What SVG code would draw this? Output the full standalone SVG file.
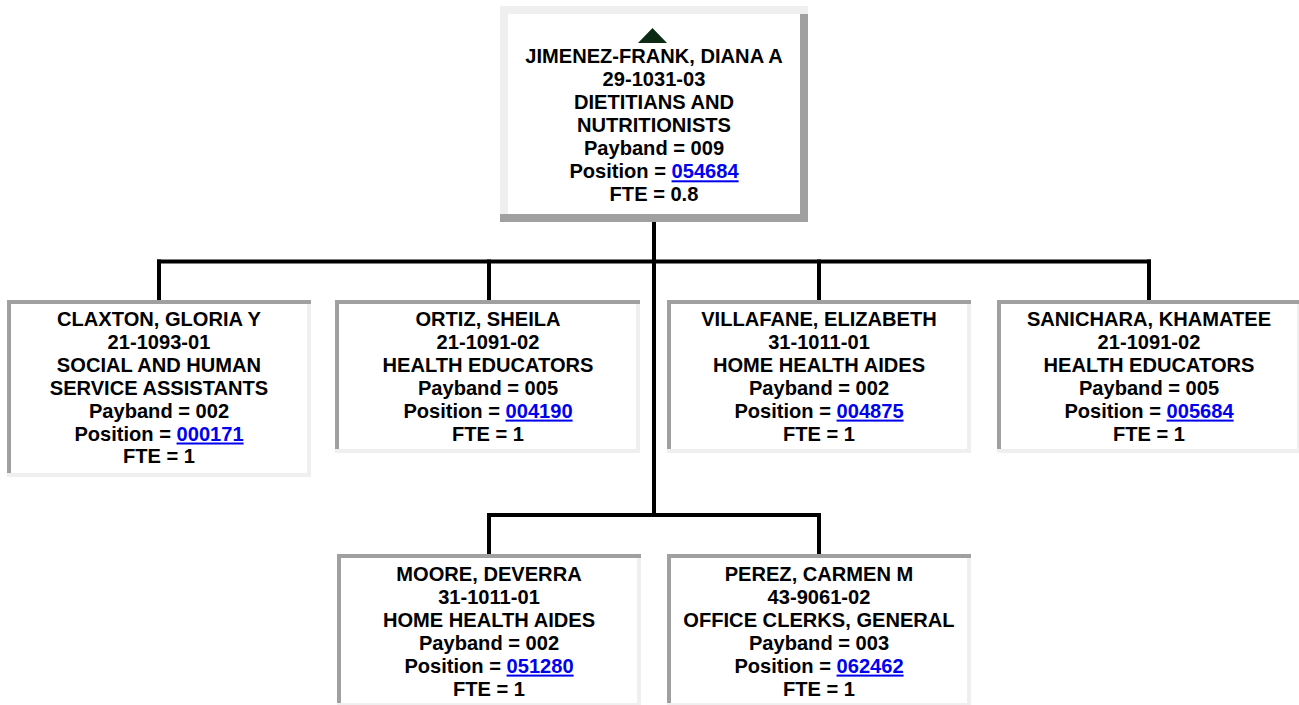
<svg xmlns="http://www.w3.org/2000/svg" width="1299" height="705" viewBox="0 0 1299 705">
<style>
.bg{fill:#ffffff}
.lt{fill:#efefef}
.dk{fill:#a0a0a0}
.t{font-family:"Liberation Sans",Arial,sans-serif;font-weight:bold;font-size:20.1px;text-anchor:middle;fill:#000}
.lk{fill:#0000ee;text-decoration:underline}
.c{stroke:#000;stroke-width:4;fill:none;stroke-linecap:square}
</style>
<rect x="0" y="0" width="1299" height="705" fill="#ffffff"/>
<g id="connectors">
<path class="c" d="M654 222 V515"/>
<path class="c" d="M159 261.5 H1149"/>
<path class="c" d="M159 261.5 V300 M489 261.5 V300 M819 261.5 V300 M1149 261.5 V300"/>
<path class="c" d="M489 515 H819 M489 515 V554 M819 515 V554"/>
</g>
<g id="node-jimenez">
<rect class="bg" x="500" y="6" width="308" height="216"/>
<rect class="lt" x="500" y="6" width="308" height="8"/>
<rect class="dk" x="500" y="214" width="308" height="8"/>
<rect class="lt" x="500" y="14" width="8" height="200"/>
<rect class="dk" x="800" y="14" width="8" height="200"/>
<polygon points="638,43 667,43 652.5,28" fill="#0d2b14"/>
<text class="t" x="654" y="63.3">JIMENEZ-FRANK, DIANA A</text>
<text class="t" x="654" y="86.3">29-1031-03</text>
<text class="t" x="654" y="109.3">DIETITIANS AND</text>
<text class="t" x="654" y="132.3">NUTRITIONISTS</text>
<text class="t" x="654" y="155.3">Payband = 009</text>
<text class="t" x="654" y="178.3">Position = <tspan class="lk">054684</tspan></text>
<text class="t" x="654" y="201.3">FTE = 0.8</text>
</g>
<g id="node-claxton">
<rect class="bg" x="7" y="300" width="304" height="177"/>
<rect class="dk" x="7" y="300" width="304" height="4"/>
<rect class="lt" x="7" y="473" width="304" height="4"/>
<rect class="dk" x="7" y="304" width="4" height="169"/>
<rect class="lt" x="307" y="304" width="4" height="169"/>
<text class="t" x="159" y="326">CLAXTON, GLORIA Y</text>
<text class="t" x="159" y="348.9">21-1093-01</text>
<text class="t" x="159" y="371.8">SOCIAL AND HUMAN</text>
<text class="t" x="159" y="394.7">SERVICE ASSISTANTS</text>
<text class="t" x="159" y="417.6">Payband = 002</text>
<text class="t" x="159" y="440.5">Position = <tspan class="lk">000171</tspan></text>
<text class="t" x="159" y="463.4">FTE = 1</text>
</g>
<g id="node-ortiz">
<rect class="bg" x="335" y="300" width="305" height="153"/>
<rect class="dk" x="335" y="300" width="305" height="4"/>
<rect class="lt" x="335" y="449" width="305" height="4"/>
<rect class="dk" x="335" y="304" width="4" height="145"/>
<rect class="lt" x="636" y="304" width="4" height="145"/>
<text class="t" x="488" y="326">ORTIZ, SHEILA</text>
<text class="t" x="488" y="348.9">21-1091-02</text>
<text class="t" x="488" y="371.8">HEALTH EDUCATORS</text>
<text class="t" x="488" y="394.7">Payband = 005</text>
<text class="t" x="488" y="417.6">Position = <tspan class="lk">004190</tspan></text>
<text class="t" x="488" y="440.5">FTE = 1</text>
</g>
<g id="node-villafane">
<rect class="bg" x="667" y="300" width="304" height="153"/>
<rect class="dk" x="667" y="300" width="304" height="4"/>
<rect class="lt" x="667" y="449" width="304" height="4"/>
<rect class="dk" x="667" y="304" width="4" height="145"/>
<rect class="lt" x="967" y="304" width="4" height="145"/>
<text class="t" x="819" y="326">VILLAFANE, ELIZABETH</text>
<text class="t" x="819" y="348.9">31-1011-01</text>
<text class="t" x="819" y="371.8">HOME HEALTH AIDES</text>
<text class="t" x="819" y="394.7">Payband = 002</text>
<text class="t" x="819" y="417.6">Position = <tspan class="lk">004875</tspan></text>
<text class="t" x="819" y="440.5">FTE = 1</text>
</g>
<g id="node-sanichara">
<rect class="bg" x="997" y="300" width="304" height="153"/>
<rect class="dk" x="997" y="300" width="304" height="4"/>
<rect class="lt" x="997" y="449" width="304" height="4"/>
<rect class="dk" x="997" y="304" width="4" height="145"/>
<rect class="lt" x="1297" y="304" width="4" height="145"/>
<text class="t" x="1149" y="326">SANICHARA, KHAMATEE</text>
<text class="t" x="1149" y="348.9">21-1091-02</text>
<text class="t" x="1149" y="371.8">HEALTH EDUCATORS</text>
<text class="t" x="1149" y="394.7">Payband = 005</text>
<text class="t" x="1149" y="417.6">Position = <tspan class="lk">005684</tspan></text>
<text class="t" x="1149" y="440.5">FTE = 1</text>
</g>
<g id="node-moore">
<rect class="bg" x="337" y="554" width="304" height="153"/>
<rect class="dk" x="337" y="554" width="304" height="4"/>
<rect class="lt" x="337" y="703" width="304" height="4"/>
<rect class="dk" x="337" y="558" width="4" height="145"/>
<rect class="lt" x="637" y="558" width="4" height="145"/>
<text class="t" x="489" y="581">MOORE, DEVERRA</text>
<text class="t" x="489" y="603.9">31-1011-01</text>
<text class="t" x="489" y="626.8">HOME HEALTH AIDES</text>
<text class="t" x="489" y="649.7">Payband = 002</text>
<text class="t" x="489" y="672.6">Position = <tspan class="lk">051280</tspan></text>
<text class="t" x="489" y="695.5">FTE = 1</text>
</g>
<g id="node-perez">
<rect class="bg" x="667" y="554" width="304" height="153"/>
<rect class="dk" x="667" y="554" width="304" height="4"/>
<rect class="lt" x="667" y="703" width="304" height="4"/>
<rect class="dk" x="667" y="558" width="4" height="145"/>
<rect class="lt" x="967" y="558" width="4" height="145"/>
<text class="t" x="819" y="581">PEREZ, CARMEN M</text>
<text class="t" x="819" y="603.9">43-9061-02</text>
<text class="t" x="819" y="626.8">OFFICE CLERKS, GENERAL</text>
<text class="t" x="819" y="649.7">Payband = 003</text>
<text class="t" x="819" y="672.6">Position = <tspan class="lk">062462</tspan></text>
<text class="t" x="819" y="695.5">FTE = 1</text>
</g>
</svg>
